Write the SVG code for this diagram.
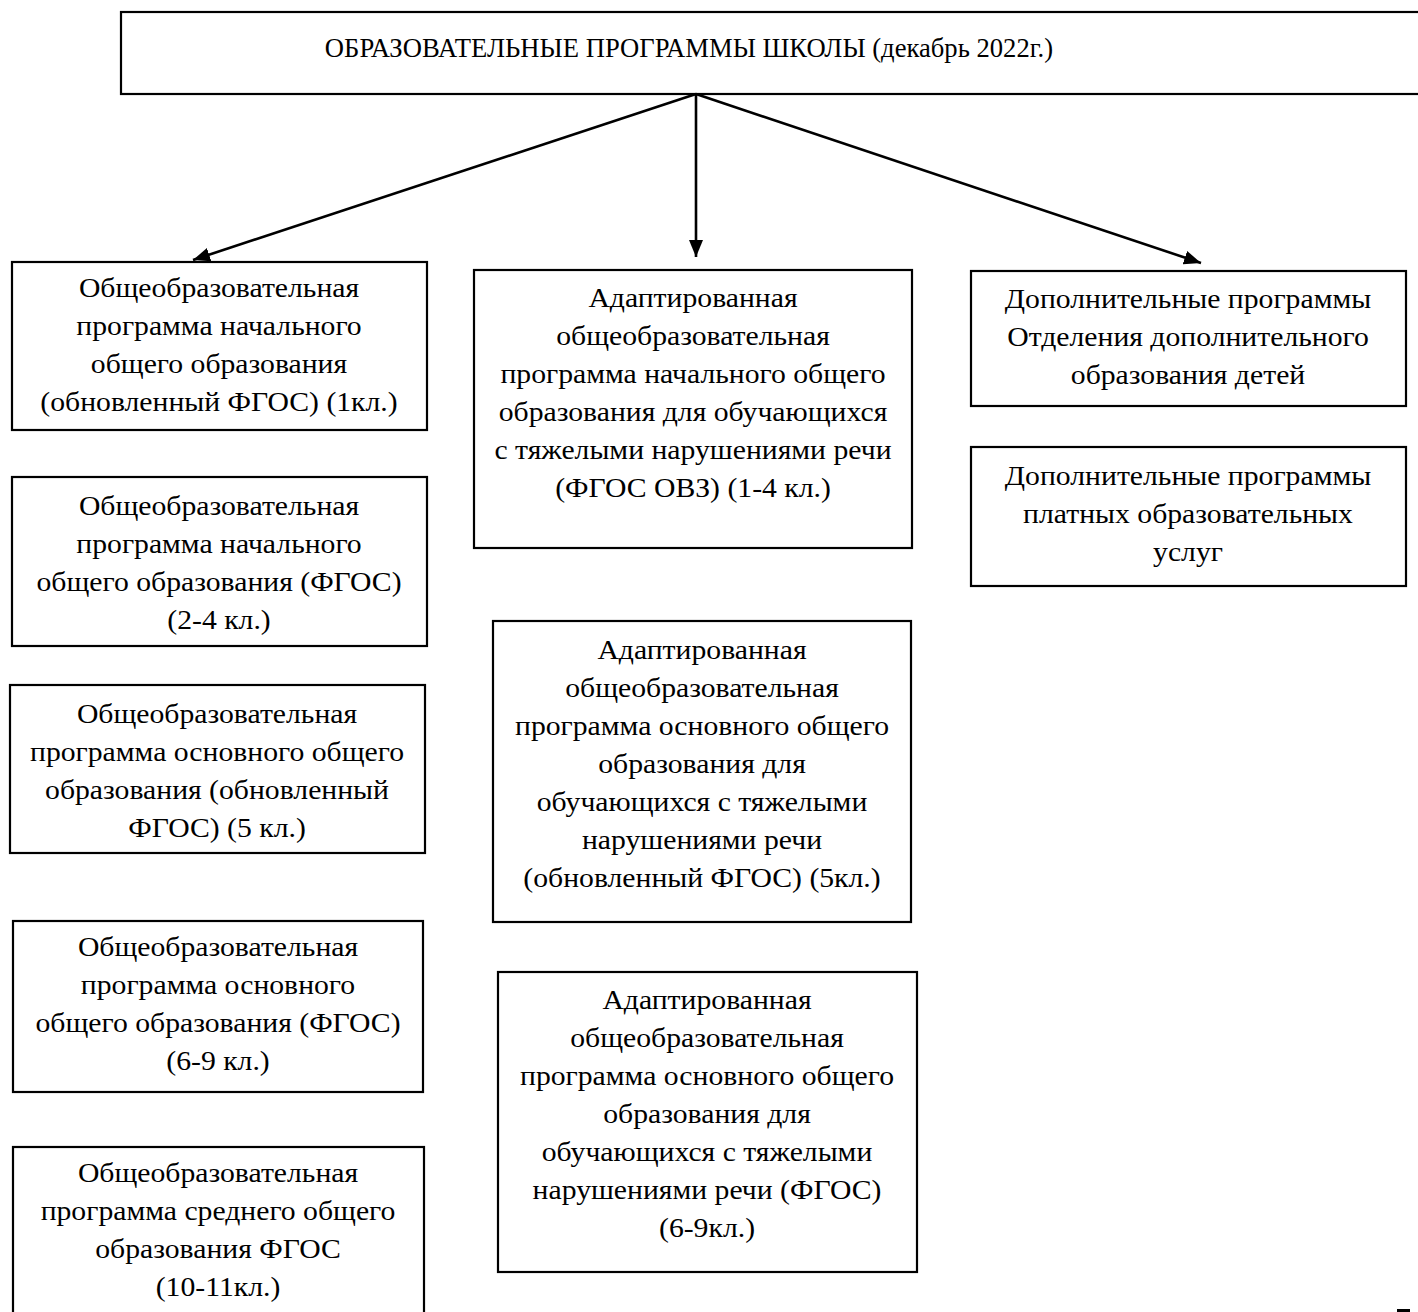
<svg xmlns="http://www.w3.org/2000/svg" width="1418" height="1312" viewBox="0 0 1418 1312">
<style>
.box{fill:#fff;stroke:#000;stroke-width:2.2}
.t{font-family:"Liberation Serif","Times New Roman",serif;font-size:27px;fill:#000;text-anchor:middle}
.c{stroke:#000;stroke-width:2.6;fill:none}
</style>
<defs>
<marker id="ah" markerUnits="userSpaceOnUse" markerWidth="18" markerHeight="14" refX="17" refY="7" orient="auto">
<path d="M0,0 L17,7 L0,14 Z" fill="#000"/>
</marker>
</defs>
<rect width="1418" height="1312" fill="#fff"/>
<g id="root">
<rect class="box" x="121" y="12" width="1310" height="82"/>
<text class="t" style="font-size:28px" transform="translate(689,0) scale(0.951,1)" x="0" y="57">ОБРАЗОВАТЕЛЬНЫЕ ПРОГРАММЫ ШКОЛЫ (декабрь 2022г.)</text>
</g>
<g id="connectors">
<line class="c" x1="696" y1="94" x2="193" y2="260" marker-end="url(#ah)"/>
<line class="c" x1="696" y1="94" x2="696" y2="257" marker-end="url(#ah)"/>
<line class="c" x1="696" y1="94" x2="1201" y2="263" marker-end="url(#ah)"/>
</g>
<g id="left1">
<rect class="box" x="12" y="262" width="415" height="168"/>
<text class="t" transform="translate(219,0) scale(1.1,1)"><tspan x="0" y="297">Общеобразовательная</tspan><tspan x="0" y="335">программа начального</tspan><tspan x="0" y="373">общего образования</tspan><tspan x="0" y="411">(обновленный ФГОС) (1кл.)</tspan></text>
</g>
<g id="left2">
<rect class="box" x="12" y="477" width="415" height="169"/>
<text class="t" transform="translate(219,0) scale(1.1,1)"><tspan x="0" y="515">Общеобразовательная</tspan><tspan x="0" y="553">программа начального</tspan><tspan x="0" y="591">общего образования (ФГОС)</tspan><tspan x="0" y="629">(2-4 кл.)</tspan></text>
</g>
<g id="left3">
<rect class="box" x="10" y="685" width="415" height="168"/>
<text class="t" transform="translate(217,0) scale(1.1,1)"><tspan x="0" y="723">Общеобразовательная</tspan><tspan x="0" y="761">программа основного общего</tspan><tspan x="0" y="799">образования (обновленный</tspan><tspan x="0" y="837">ФГОС) (5 кл.)</tspan></text>
</g>
<g id="left4">
<rect class="box" x="13" y="921" width="410" height="171"/>
<text class="t" transform="translate(218,0) scale(1.1,1)"><tspan x="0" y="956">Общеобразовательная</tspan><tspan x="0" y="994">программа основного</tspan><tspan x="0" y="1032">общего образования (ФГОС)</tspan><tspan x="0" y="1070">(6-9 кл.)</tspan></text>
</g>
<g id="left5">
<rect class="box" x="13" y="1147" width="411" height="180"/>
<text class="t" transform="translate(218,0) scale(1.1,1)"><tspan x="0" y="1182">Общеобразовательная</tspan><tspan x="0" y="1220">программа среднего общего</tspan><tspan x="0" y="1258">образования ФГОС</tspan><tspan x="0" y="1296">(10-11кл.)</tspan></text>
</g>
<g id="mid1">
<rect class="box" x="474" y="270" width="438" height="278"/>
<text class="t" transform="translate(693,0) scale(1.1,1)"><tspan x="0" y="307">Адаптированная</tspan><tspan x="0" y="345">общеобразовательная</tspan><tspan x="0" y="383">программа начального общего</tspan><tspan x="0" y="421">образования для обучающихся</tspan><tspan x="0" y="459">с тяжелыми нарушениями речи</tspan><tspan x="0" y="497">(ФГОС ОВЗ) (1-4 кл.)</tspan></text>
</g>
<g id="mid2">
<rect class="box" x="493" y="621" width="418" height="301"/>
<text class="t" transform="translate(702,0) scale(1.1,1)"><tspan x="0" y="659">Адаптированная</tspan><tspan x="0" y="697">общеобразовательная</tspan><tspan x="0" y="735">программа основного общего</tspan><tspan x="0" y="773">образования для</tspan><tspan x="0" y="811">обучающихся с тяжелыми</tspan><tspan x="0" y="849">нарушениями речи</tspan><tspan x="0" y="887">(обновленный ФГОС) (5кл.)</tspan></text>
</g>
<g id="mid3">
<rect class="box" x="498" y="972" width="419" height="300"/>
<text class="t" transform="translate(707,0) scale(1.1,1)"><tspan x="0" y="1009">Адаптированная</tspan><tspan x="0" y="1047">общеобразовательная</tspan><tspan x="0" y="1085">программа основного общего</tspan><tspan x="0" y="1123">образования для</tspan><tspan x="0" y="1161">обучающихся с тяжелыми</tspan><tspan x="0" y="1199">нарушениями речи (ФГОС)</tspan><tspan x="0" y="1237">(6-9кл.)</tspan></text>
</g>
<g id="right1">
<rect class="box" x="971" y="271" width="435" height="135"/>
<text class="t" transform="translate(1188,0) scale(1.1,1)"><tspan x="0" y="308">Дополнительные программы</tspan><tspan x="0" y="346">Отделения дополнительного</tspan><tspan x="0" y="384">образования детей</tspan></text>
</g>
<g id="right2">
<rect class="box" x="971" y="447" width="435" height="139"/>
<text class="t" transform="translate(1188,0) scale(1.1,1)"><tspan x="0" y="485">Дополнительные программы</tspan><tspan x="0" y="523">платных образовательных</tspan><tspan x="0" y="561">услуг</tspan></text>
</g>
<rect x="1397" y="1309" width="13" height="3" fill="#000"/>
</svg>
